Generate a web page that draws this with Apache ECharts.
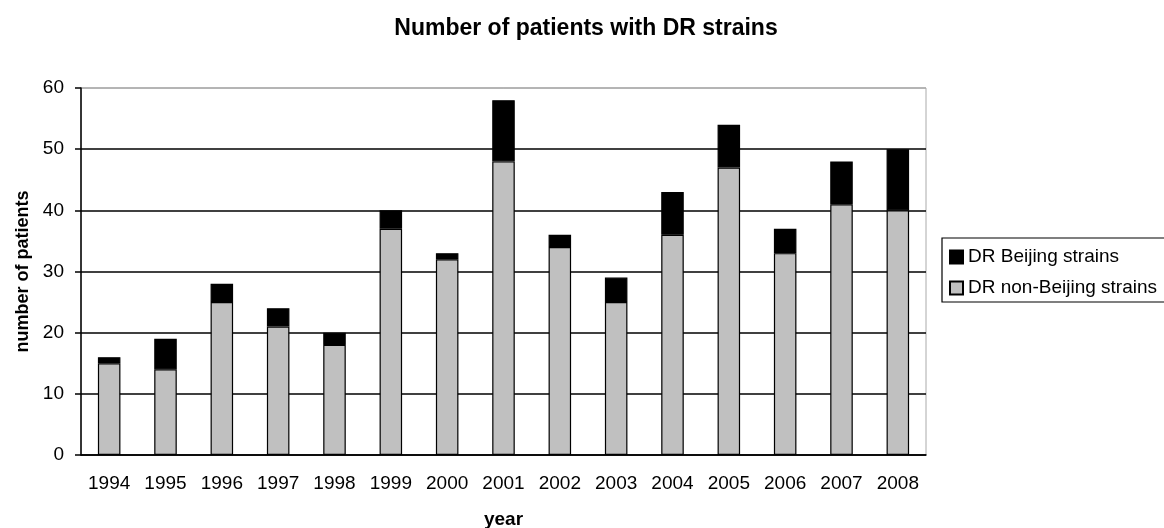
<!DOCTYPE html>
<html>
<head>
<meta charset="utf-8">
<script src="https://cdn.jsdelivr.net/npm/echarts@6/dist/echarts.min.js"></script>
<style>
  html, body { margin: 0; padding: 0; background: #fff; }
  #chart { width: 1164px; height: 528px; }
</style>
</head>
<body>
<div id="chart"></div>
<script>
// years on the x axis
var years = ['1994', '1995', '1996', '1997', '1998', '1999', '2000', '2001',
             '2002', '2003', '2004', '2005', '2006', '2007', '2008'];
// DR non-Beijing strains (grey, bottom of stack)
var nonBeijing = [15, 14, 25, 21, 18, 37, 32, 48, 34, 25, 36, 47, 33, 41, 40];
// DR Beijing strains (black, top of stack)
var beijing = [1, 5, 3, 3, 2, 3, 1, 10, 2, 4, 7, 7, 4, 7, 10];

var font = 'Liberation Sans, Arial, sans-serif';

var myChart = echarts.init(document.getElementById('chart'));
var option = {
  animation: false,
  backgroundColor: '#fff',
  title: {
    text: 'Number of patients with DR strains',
    left: 581,
    top: 12,
    textAlign: 'center',
    textStyle: {
      fontFamily: font,
      fontSize: 23,
      fontWeight: 'bold',
      color: '#000'
    }
  },
  legend: {
    left: 942,
    top: 238,
    orient: 'vertical',
    data: ['DR Beijing strains', 'DR non-Beijing strains'],
    icon: 'rect',
    itemWidth: 13,
    itemHeight: 13,
    itemGap: 11,
    padding: [9, 8, 4, 7],
    borderColor: '#000',
    borderWidth: 1.2,
    textStyle: {
      fontFamily: font,
      fontSize: 19,
      lineHeight: 20,
      color: '#000'
    }
  },
  grid: {
    left: 81,
    right: 238,
    top: 88,
    bottom: 73,
    outerBoundsMode: 'none',
    show: true,
    borderColor: '#aaa',
    borderWidth: 1
  },
  xAxis: {
    type: 'category',
    data: years,
    name: 'year',
    nameLocation: 'middle',
    nameGap: 55,
    nameTextStyle: {
      fontFamily: font,
      fontSize: 19,
      fontWeight: 'bold',
      color: '#000'
    },
    axisLine: { lineStyle: { color: '#000', width: 1.5 } },
    axisTick: { length: 7, lineStyle: { color: '#000', width: 1.5 } },
    axisLabel: {
      margin: 19,
      fontFamily: font,
      fontSize: 19,
      color: '#000'
    }
  },
  yAxis: {
    type: 'value',
    min: 0,
    max: 60,
    interval: 10,
    name: 'number of patients',
    nameLocation: 'middle',
    nameGap: 49,
    nameTextStyle: {
      fontFamily: font,
      fontSize: 18,
      fontWeight: 'bold',
      color: '#000'
    },
    axisLine: { show: true, lineStyle: { color: '#000', width: 1.5 } },
    axisTick: { show: true, length: 6, lineStyle: { color: '#000', width: 1.5 } },
    axisLabel: {
      margin: 17,
      fontFamily: font,
      fontSize: 19,
      color: '#000'
    },
    splitLine: {
      lineStyle: {
        color: ['#000', '#000', '#000', '#000', '#000', '#000', '#aaa'],
        width: 1.5
      }
    }
  },
  series: [{
    name: 'DR non-Beijing strains',
    type: 'bar',
    stack: 'total',
    barWidth: '40%',
    data: nonBeijing,
    itemStyle: {
      color: '#c0c0c0',
      borderColor: '#000',
      borderWidth: 1.2
    }
  }, {
    name: 'DR Beijing strains',
    type: 'bar',
    stack: 'total',
    barWidth: '40%',
    data: beijing,
    itemStyle: {
      color: '#000',
      borderColor: '#000',
      borderWidth: 1.2
    }
  }]
};
myChart.setOption(option);
</script>
</body>
</html>
